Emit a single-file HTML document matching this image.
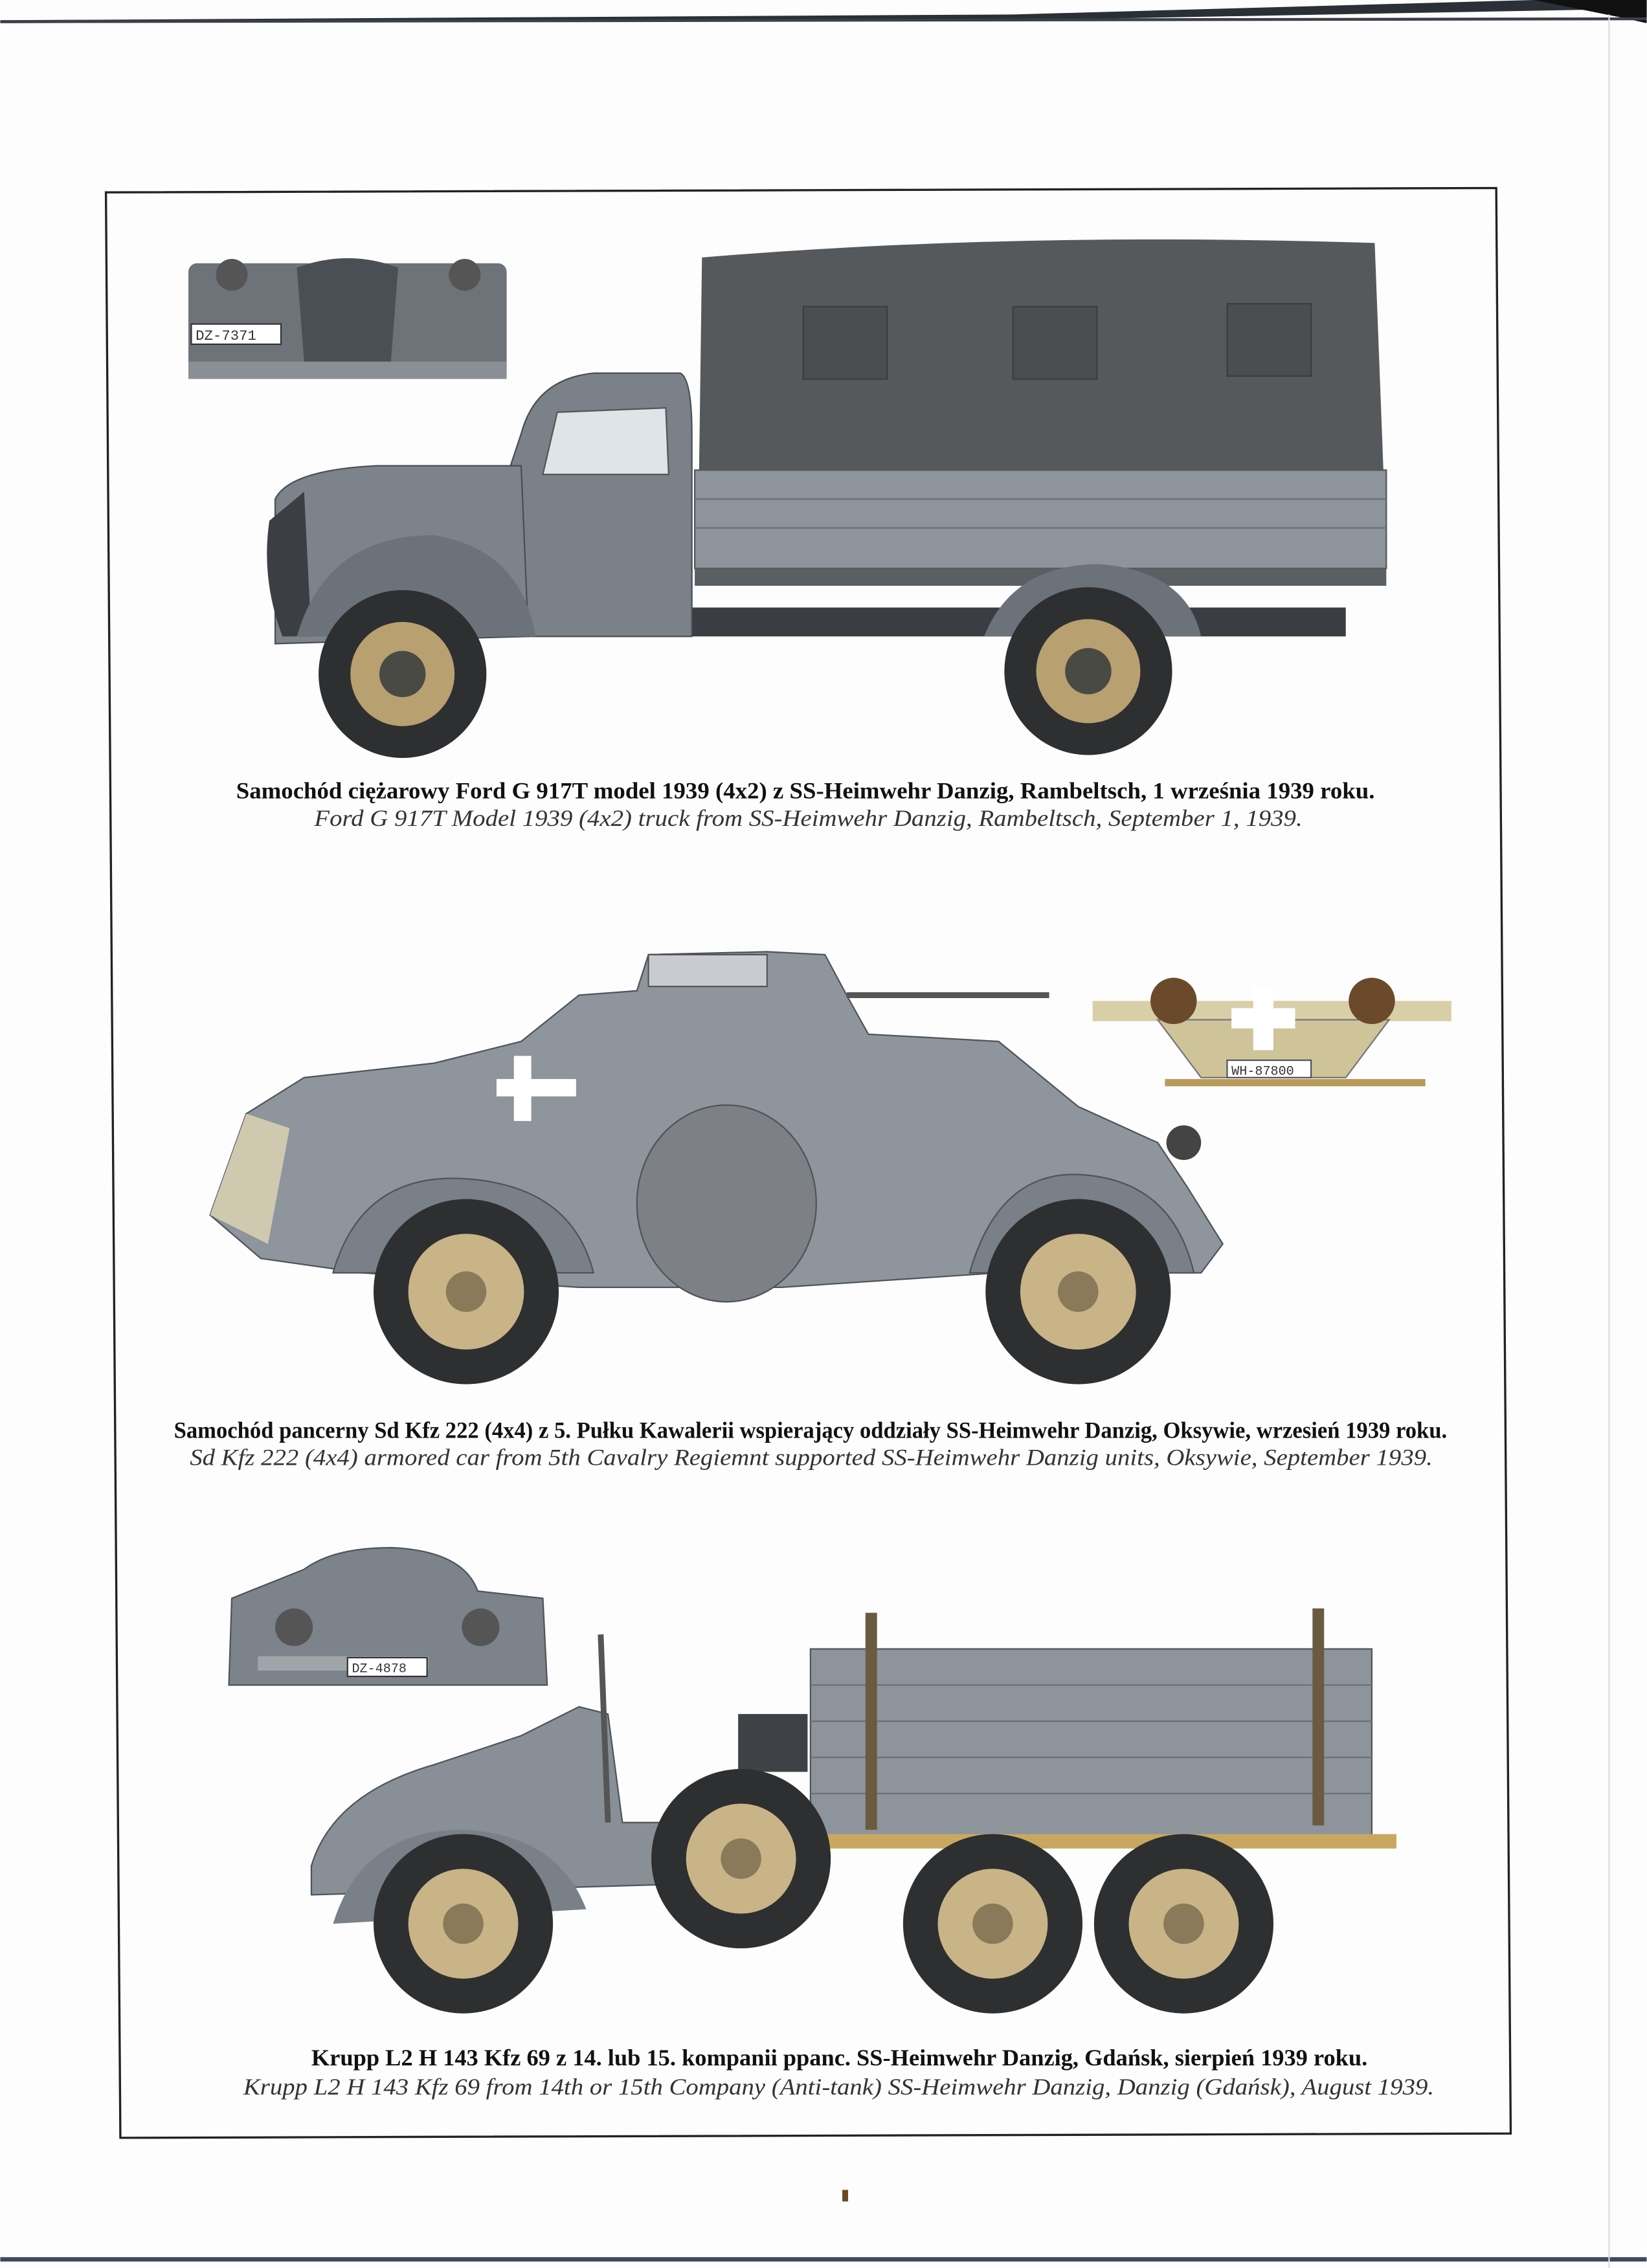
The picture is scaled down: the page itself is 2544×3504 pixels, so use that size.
<!DOCTYPE html>
<html><head><meta charset="utf-8"><style>
html,body{margin:0;padding:0;background:#fff;}
svg{display:block;}
</style></head><body>
<svg width="2544" height="3504" viewBox="0 0 1138 1568" xmlns="http://www.w3.org/2000/svg">
<rect width="1138" height="1568" fill="#fdfdfd"/>
<!-- top border -->
<polygon points="0,16 700,14 1138,6 1138,0 1060,0 700,10 0,14" fill="#2a3036"/>
<polygon points="1060,0 1138,0 1138,16 1120,12" fill="#111"/>
<line x1="0" y1="15" x2="1138" y2="13" stroke="#3a4048" stroke-width="2"/>
<line x1="0" y1="1562" x2="1138" y2="1562" stroke="#3b4a60" stroke-width="3"/>
<line x1="1112" y1="10" x2="1112" y2="1568" stroke="#ddd" stroke-width="1"/>
<!-- frame -->
<polygon points="73,133 1034,130 1044,1475 83,1478" fill="none" stroke="#222" stroke-width="1.5"/>

<!-- ===== Truck 1 ===== -->
<g>
<rect x="130" y="182" width="220" height="80" rx="6" fill="#6e737a"/>
<rect x="130" y="250" width="220" height="12" fill="#8a8f96"/>
<path d="M205,185 Q240,172 275,185 L270,250 L210,250 Z" fill="#4a4f56"/>
<circle cx="160" cy="190" r="11" fill="#555"/><circle cx="321" cy="190" r="11" fill="#555"/>
<rect x="132" y="224" width="62" height="14" fill="#fff" stroke="#333"/>
<text x="135" y="235" font-family="Liberation Mono, monospace" font-size="10" fill="#333">DZ-7371</text>
<path d="M485,178 Q700,160 950,168 L956,325 L483,325 Z" fill="#55595c"/>
<rect x="555" y="212" width="58" height="50" fill="#4a4e51" stroke="#3a3d40"/>
<rect x="700" y="212" width="58" height="50" fill="#4a4e51" stroke="#3a3d40"/>
<rect x="848" y="210" width="58" height="50" fill="#4a4e51" stroke="#3a3d40"/>
<rect x="480" y="325" width="478" height="68" fill="#8d949b" stroke="#555"/>
<line x1="480" y1="345" x2="958" y2="345" stroke="#6a7077"/>
<line x1="480" y1="365" x2="958" y2="365" stroke="#6a7077"/>
<rect x="480" y="393" width="478" height="12" fill="#5a5f64"/>
<rect x="330" y="420" width="600" height="20" fill="#3a3e42"/>
<path d="M360,300 Q370,262 410,258 L470,258 Q478,262 478,300 L478,440 L350,440 L350,330 Z" fill="#7a8188" stroke="#4a4f55"/>
<path d="M375,328 L385,285 L460,282 L462,328 Z" fill="#dfe4e8" stroke="#555"/>
<path d="M190,345 Q200,325 260,322 L360,322 L365,440 L190,445 Z" fill="#7c838a" stroke="#4a4f55"/>
<path d="M186,360 Q180,400 195,440 L215,440 L210,340 Z" fill="#3b3f44"/>
<path d="M205,440 Q225,370 300,370 Q360,380 370,440 Z" fill="#6b7279"/>
<path d="M680,440 Q700,390 760,390 Q820,395 830,440 Z" fill="#6b7279"/>
<circle cx="278" cy="466" r="58" fill="#2e2f31"/><circle cx="278" cy="466" r="36" fill="#b8a070"/><circle cx="278" cy="466" r="16" fill="#4a4a44"/>
<circle cx="752" cy="464" r="58" fill="#2e2f31"/><circle cx="752" cy="464" r="36" fill="#b8a070"/><circle cx="752" cy="464" r="16" fill="#4a4a44"/>
</g>
<text x="163" y="552" textLength="787" lengthAdjust="spacingAndGlyphs" font-family="Liberation Serif, serif" font-weight="bold" font-size="16" fill="#111">Samochód ciężarowy Ford G 917T model 1939 (4x2) z SS-Heimwehr Danzig, Rambeltsch, 1 września 1939 roku.</text>
<text x="217" y="571" textLength="683" lengthAdjust="spacingAndGlyphs" font-family="Liberation Serif, serif" font-style="italic" font-size="16" fill="#333">Ford G 917T Model 1939 (4x2) truck from SS-Heimwehr Danzig, Rambeltsch, September 1, 1939.</text>

<!-- ===== Armored car ===== -->
<g>
<path d="M360,720 L400,688 L440,685 L448,660 L530,658 L570,660 L585,688 L600,715 L690,720 L745,765 L800,790 L820,820 L845,860 L830,880 L800,880 L690,880 L540,890 L400,890 L250,880 L180,870 L145,840 L170,770 L210,745 L300,735 Z" fill="#8e959c" stroke="#4e545a"/>
<path d="M145,840 L170,770 L200,780 L185,860 Z" fill="#cfc9b0"/>
<rect x="448" y="660" width="82" height="22" fill="#c8ccd0" stroke="#555"/>
<line x1="585" y1="688" x2="725" y2="688" stroke="#555" stroke-width="4"/>
<rect x="355" y="730" width="12" height="45" fill="#fff"/><rect x="343" y="746" width="55" height="12" fill="#fff"/>
<path d="M230,880 Q250,810 322,815 Q395,820 410,880 Z" fill="#7a8087" stroke="#4e545a"/>
<path d="M670,880 Q690,810 745,812 Q810,815 825,880 Z" fill="#7a8087" stroke="#4e545a"/>
<ellipse cx="502" cy="832" rx="62" ry="68" fill="#7d8186" stroke="#4e545a"/>
<circle cx="322" cy="893" r="64" fill="#2e2f31"/><circle cx="322" cy="893" r="40" fill="#c9b488"/><circle cx="322" cy="893" r="14" fill="#8a7a5a"/>
<circle cx="745" cy="893" r="64" fill="#2e2f31"/><circle cx="745" cy="893" r="40" fill="#c9b488"/><circle cx="745" cy="893" r="14" fill="#8a7a5a"/>
<circle cx="818" cy="790" r="12" fill="#444"/>
<rect x="755" y="692" width="248" height="14" fill="#d8cfa8"/>
<path d="M800,705 L960,705 L930,745 L830,745 Z" fill="#cfc39a" stroke="#777"/>
<circle cx="811" cy="692" r="16" fill="#6a4a2a"/><circle cx="948" cy="692" r="16" fill="#6a4a2a"/>
<rect x="866" y="682" width="14" height="44" fill="#fff"/><rect x="851" y="697" width="44" height="14" fill="#fff"/>
<rect x="848" y="733" width="58" height="12" fill="#fff" stroke="#555"/>
<text x="851" y="743" font-family="Liberation Mono, monospace" font-size="9" fill="#333">WH-87800</text>
<rect x="805" y="746" width="180" height="5" fill="#b89a5a"/>
</g>
<text x="120" y="994" textLength="880" lengthAdjust="spacingAndGlyphs" font-family="Liberation Serif, serif" font-weight="bold" font-size="16" fill="#111">Samochód pancerny Sd Kfz 222 (4x4) z 5. Pułku Kawalerii wspierający oddziały SS-Heimwehr Danzig, Oksywie, wrzesień 1939 roku.</text>
<text x="131" y="1013" textLength="859" lengthAdjust="spacingAndGlyphs" font-family="Liberation Serif, serif" font-style="italic" font-size="16" fill="#333">Sd Kfz 222 (4x4) armored car from 5th Cavalry Regiemnt supported SS-Heimwehr Danzig units, Oksywie, September 1939.</text>

<!-- ===== Krupp ===== -->
<g>
<path d="M210,1085 Q230,1070 270,1070 Q320,1072 330,1100 L375,1105 L378,1165 L158,1165 L160,1105 Z" fill="#7c838a" stroke="#4e545a"/>
<circle cx="203" cy="1125" r="13" fill="#555"/><circle cx="332" cy="1125" r="13" fill="#555"/>
<rect x="178" y="1145" width="118" height="10" fill="#a0a5aa"/>
<rect x="240" y="1146" width="55" height="13" fill="#fff" stroke="#333"/>
<text x="243" y="1156" font-family="Liberation Mono, monospace" font-size="9" fill="#333">DZ-4878</text>
<rect x="560" y="1140" width="388" height="130" fill="#8d949b" stroke="#555"/>
<line x1="560" y1="1165" x2="948" y2="1165" stroke="#6a7077"/>
<line x1="560" y1="1190" x2="948" y2="1190" stroke="#6a7077"/>
<line x1="560" y1="1215" x2="948" y2="1215" stroke="#6a7077"/>
<line x1="560" y1="1240" x2="948" y2="1240" stroke="#6a7077"/>
<rect x="598" y="1115" width="8" height="150" fill="#6a5a40"/><rect x="907" y="1112" width="8" height="150" fill="#6a5a40"/>
<rect x="555" y="1268" width="410" height="10" fill="#c8a860"/>
<path d="M215,1290 Q230,1240 300,1220 L360,1200 L400,1180 L420,1185 L430,1260 L540,1260 L560,1280 L560,1300 L215,1310 Z" fill="#888f96" stroke="#4e545a"/>
<rect x="510" y="1185" width="48" height="40" fill="#3e4246"/>
<line x1="415" y1="1130" x2="420" y2="1260" stroke="#555" stroke-width="4"/>
<path d="M230,1330 Q250,1265 320,1265 Q385,1268 405,1320 Z" fill="#7a8087"/>
<circle cx="320" cy="1330" r="62" fill="#2e2f31"/><circle cx="320" cy="1330" r="38" fill="#c9b488"/><circle cx="320" cy="1330" r="14" fill="#8a7a5a"/>
<circle cx="512" cy="1285" r="62" fill="#2e2f31"/><circle cx="512" cy="1285" r="38" fill="#c9b488"/><circle cx="512" cy="1285" r="14" fill="#8a7a5a"/>
<circle cx="686" cy="1330" r="62" fill="#2e2f31"/><circle cx="686" cy="1330" r="38" fill="#c9b488"/><circle cx="686" cy="1330" r="14" fill="#8a7a5a"/>
<circle cx="818" cy="1330" r="62" fill="#2e2f31"/><circle cx="818" cy="1330" r="38" fill="#c9b488"/><circle cx="818" cy="1330" r="14" fill="#8a7a5a"/>
</g>
<text x="215" y="1428" textLength="730" lengthAdjust="spacingAndGlyphs" font-family="Liberation Serif, serif" font-weight="bold" font-size="16" fill="#111">Krupp L2 H 143 Kfz 69 z 14. lub 15. kompanii ppanc. SS-Heimwehr Danzig, Gdańsk, sierpień 1939 roku.</text>
<text x="168" y="1448" textLength="823" lengthAdjust="spacingAndGlyphs" font-family="Liberation Serif, serif" font-style="italic" font-size="16" fill="#333">Krupp L2 H 143 Kfz 69 from 14th or 15th Company (Anti-tank) SS-Heimwehr Danzig, Danzig (Gdańsk), August 1939.</text>
<rect x="582" y="1514" width="4" height="8" fill="#6a4a20"/>
</svg>
</body></html>
